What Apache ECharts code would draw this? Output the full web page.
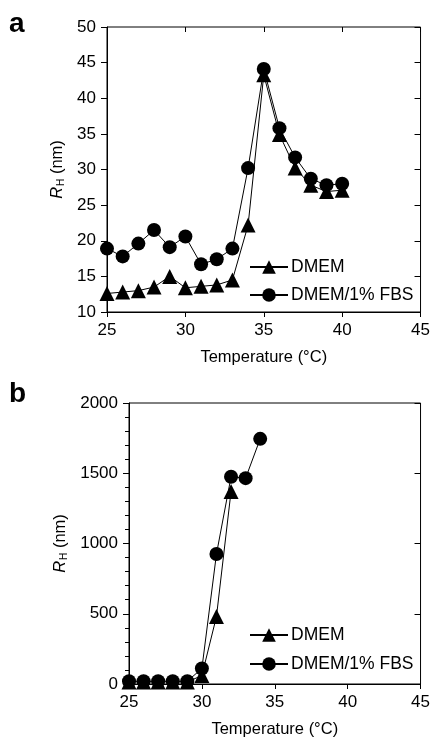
<!DOCTYPE html>
<html><head><meta charset="utf-8">
<script src="https://cdn.jsdelivr.net/npm/echarts@6/dist/echarts.min.js"></script>
<style>html,body{margin:0;padding:0;background:#fff}#c{width:433px;height:742px}</style>
</head><body><div id="c"></div>
<script>
const tempsA = [25,26,27,28,29,30,31,32,33,34,35,36,37,38,39,40];
const dmemA  = [12.6,12.8,13.0,13.5,15.0,13.4,13.6,13.8,14.5,22.2,43.3,34.9,30.2,27.8,26.9,27.1];
const fbsA   = [18.9,17.8,19.6,21.5,19.1,20.6,16.7,17.4,18.9,30.2,44.1,35.8,31.7,28.7,27.8,28.0];
const tempsB_dmem = [25,26,27,28,29,30,31,32];
const dmemB  = [15,15,15,15,15,60,480,1370];
const tempsB_fbs = [25,26,27,28,29,30,31,32,33,34];
const fbsB   = [20,20,20,20,20,110,925,1475,1465,1745];
const xTicks = [25,30,35,40,45];
const yTicksA = [10,15,20,25,30,35,40,45,50];
const yTicksB = [0,500,1000,1500,2000];
const seriesNames = ['DMEM','DMEM/1% FBS'];

const F = 'Liberation Sans, Arial, sans-serif';
const pair = (xs, ys) => xs.map((x,i)=>[x, ys[i]]);

function xAx(grid, inside, showName){
  return {
    type:'value', gridIndex:grid, min:xTicks[0], max:xTicks[xTicks.length-1], interval:xTicks[1]-xTicks[0],
    axisLine:{show:!inside, lineStyle:{color:'#000', width:1}},
    axisTick:{show:true, inside:inside, length:5, lineStyle:{color:'#000'}},
    axisLabel:{show:!inside, color:'#000', fontFamily:F, fontSize:17, margin:10, formatter:v=>String(v)},
    splitLine:{show:false},
    name: showName ? 'Temperature (°C)' : '', nameLocation:'middle', nameGap:37,
    nameTextStyle:{color:'#000', fontFamily:F, fontSize:16.5}
  };
}
function yAx(grid, inside, ticks, minor, nameGap){
  return {
    type:'value', gridIndex:grid, min:ticks[0], max:ticks[ticks.length-1], interval:ticks[1]-ticks[0],
    axisLine:{show:!inside, lineStyle:{color:'#000', width:1}},
    axisTick:{show:true, inside:inside, length:6, lineStyle:{color:'#000'}},
    minorTick:{show: minor && !inside, splitNumber:5, length:4, lineStyle:{color:'#000'}},
    axisLabel:{show:!inside, color:'#000', fontFamily:F, fontSize:17, margin:11, formatter:v=>String(v)},
    splitLine:{show:false},
    name: inside ? '' : '{i|R}{s|H}{n| (nm)}', nameLocation:'middle', nameGap:nameGap, nameRotate:90,
    nameTextStyle:{color:'#000', fontFamily:F, fontSize:16.5,
      rich:{i:{fontStyle:'italic', fontSize:16.5, fontFamily:F, color:'#000'},
            s:{fontSize:10, fontFamily:F, color:'#000', verticalAlign:'bottom', padding:[4,0,0,1]},
            n:{fontSize:16.5, fontFamily:F, color:'#000'}}}
  };
}
function ser(name, x, y, data, sym, size){
  return {name, type:'line', xAxisIndex:x, yAxisIndex:y, data, symbol:sym, symbolSize:size,
    lineStyle:{color:'#000', width:1}, itemStyle:{color:'#000', borderColor:'#000', borderWidth:0},
    emphasis:{disabled:true}, animation:false};
}
function leg(top, gap){
  return {data:seriesNames, orient:'vertical', left:249, top:top, padding:0, itemWidth:38, itemHeight:17, itemGap:gap,
    textStyle:{color:'#000', fontFamily:F, fontSize:17.5, padding:[0,0,0,-2]}, selectedMode:false};
}
const chart = echarts.init(document.getElementById('c'), null, {renderer:'canvas'});
chart.setOption({
  animation:false,
  backgroundColor:'#fff',
  grid:[
    {left:107, top:27, width:314, height:285, show:true, borderColor:'#000', borderWidth:1, backgroundColor:'transparent'},
    {left:129, top:403, width:292, height:281, show:true, borderColor:'#000', borderWidth:1, backgroundColor:'transparent'}
  ],
  xAxis:[xAx(0,false,true), xAx(0,true,false), xAx(1,false,true), xAx(1,true,false)],
  yAxis:[yAx(0,false,yTicksA,false,41), yAx(0,true,yTicksA,false,41), yAx(1,false,yTicksB,true,57), yAx(1,true,yTicksB,false,57)],
  legend:[leg(258, 10), leg(626, 11)],
  graphic:[
    {type:'text', left:9, top:10, style:{text:'a', font:'bold 28px '+F, fill:'#000'}},
    {type:'text', left:9, top:380, style:{text:'b', font:'bold 28px '+F, fill:'#000'}}
  ],
  series:[
    ser('DMEM',0,0,pair(tempsA,dmemA),'triangle',15),
    ser('DMEM/1% FBS',0,0,pair(tempsA,fbsA),'circle',14),
    ser('DMEM',2,2,pair(tempsB_dmem,dmemB),'triangle',15),
    ser('DMEM/1% FBS',2,2,pair(tempsB_fbs,fbsB),'circle',14)
  ]
});
</script></body></html>
